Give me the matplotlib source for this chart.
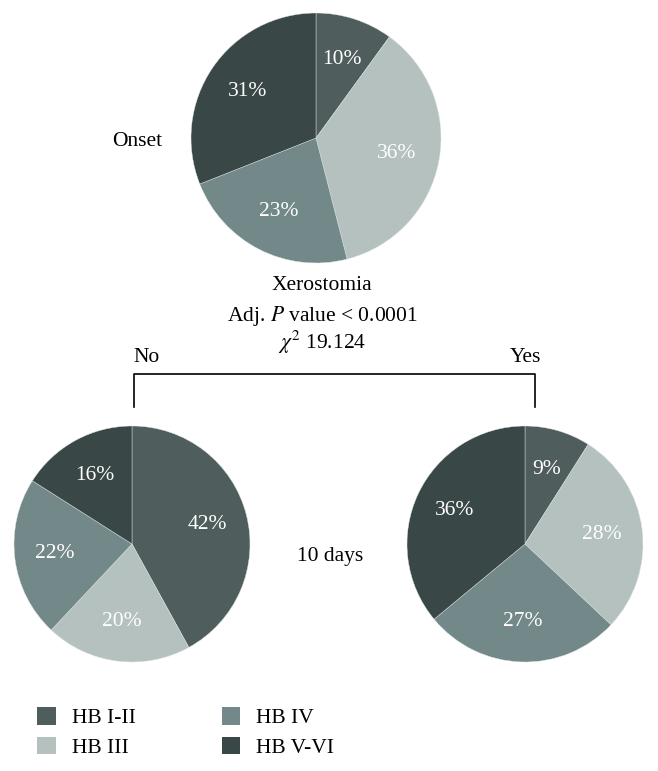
import matplotlib.pyplot as plt
from matplotlib.patches import Patch

plt.rcParams['font.family'] = ['Liberation Serif', 'DejaVu Serif']
plt.rcParams['mathtext.fontset'] = 'stix'

groups = ['HB I-II', 'HB III', 'HB IV', 'HB V-VI']
colors = ['#4f5d5d', '#b4c1bf', '#738989', '#3a4747']
onset = [10, 36, 23, 31]
no_xero = [42, 20, 22, 16]
yes_xero = [9, 28, 27, 36]

W, H = 658, 771
fig = plt.figure(figsize=(W / 100, H / 100), dpi=100)
ax = fig.add_axes([0, 0, 1, 1])
ax.axis('off')

fs = 15.5


def draw_pie(vals, cx, cy, r):
    ax.pie(vals, colors=colors, startangle=90, counterclock=False,
           center=(cx, H - cy), radius=r, pctdistance=0.66,
           autopct=lambda p: f'{p:.0f}%',
           textprops=dict(color='white', fontsize=fs),
           wedgeprops=dict(linewidth=0.3, edgecolor='#dfe6e6'))


draw_pie(onset, 316, 138, 125)
draw_pie(no_xero, 132, 544, 118)
draw_pie(yes_xero, 525, 544, 118)
ax.set_xlim(0, W)
ax.set_ylim(0, H)
ax.set_aspect('equal')

ax.text(137, H - 141, 'Onset', ha='center', va='center', fontsize=fs)
ax.text(322, H - 285, 'Xerostomia', ha='center', va='center', fontsize=fs)
ax.text(322, H - 316, r'Adj. $P$ value < 0.0001', ha='center', va='center', fontsize=fs)
ax.text(322, H - 342, r'$\chi^2$ 19.124', ha='center', va='center', fontsize=fs)
ax.text(133, H - 357, 'No', ha='left', va='center', fontsize=fs)
ax.text(541, H - 357, 'Yes', ha='right', va='center', fontsize=fs)
ax.text(330, H - 556, '10 days', ha='center', va='center', fontsize=fs)

# bracket
ax.plot([134, 134, 535, 535], [H - 407, H - 374, H - 374, H - 407],
        color='black', linewidth=1.2)

handles = [Patch(facecolor=c, edgecolor='none') for c in colors]
fig.legend(handles, groups, loc='upper left',
           bbox_to_anchor=(18 / W, 1 - 688 / H), ncol=2, frameon=False,
           fontsize=fs, handlelength=0.85, handleheight=0.85,
           handletextpad=0.75, columnspacing=4.0, labelspacing=0.4)

fig.savefig('out.png', dpi=100)
